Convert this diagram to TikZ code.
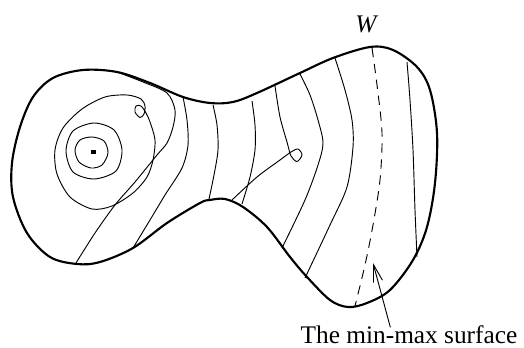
\documentclass[tikz,border=0pt]{standalone}
\usepackage{fontspec}
\setmainfont{Liberation Serif}
\usetikzlibrary{arrows.meta}
\tikzset{
  outline/.style={line width=1.6pt, line join=round},
  contour/.style={line width=0.7pt},
  minmax/.style={line width=0.7pt, dash pattern=on 7pt off 5pt},
  arr/.style={line width=0.7pt, -{Straight Barb[length=13pt,width=7pt]}},
  lab/.style={inner sep=0pt, font=\fontsize{19}{23}\selectfont}
}
\begin{document}
\begin{tikzpicture}[x=0.75pt,y=-0.75pt]
\useasboundingbox (0,0) rectangle (524,348);
% outline
\draw[outline] plot[smooth cycle, tension=0.55] coordinates {
 (12,163) (20,127) (33,97) (53,78) (83,70) (117,72) (150,83) (183,97) (210,103)
 (233,102) (257,93) (300,73) (333,58) (370,47) (393,50) (417,67) (430,90)
 (437,133) (435,183) (427,227) (413,260) (390,290) (367,303) (348,307)
 (330,300) (307,277) (290,257) (267,227) (243,207) (225,199) (210,200)
 (200,203) (167,223) (133,248) (100,262) (77,264) (50,257) (27,233) (13,197)};
% critical point and closed levels
\fill (91,150) rectangle (95.5,154.5);
\draw[contour] plot[smooth cycle] coordinates {(92,137) (104,141) (108,153) (102,165) (91,168) (79,162) (75,150) (80,140)};
\draw[contour] plot[smooth cycle] coordinates {(94,123) (114,130) (122,150) (116,171) (94,179) (73,172) (66,151) (73,131)};
% spiral with small loop
\draw[contour] plot[smooth cycle, tension=0.5] coordinates {
 (150,122) (155,140) (153,160) (147,177) (133,193) (112,206) (92,209) (70,197)
 (57,174) (55,150) (63,128) (82,109) (105,97) (127,95) (141,99) (145,106)
 (144,114) (140,117.5) (135,112) (136,106) (141,106) (146,113)};
% curve from top boundary to bottom
\draw[contour] plot[smooth] coordinates {(117,72) (143,82) (167,93) (175,110) (173,127) (167,143) (157,155) (135,182) (115,205) (95,233) (76,263)};
% neck levels
\draw[contour] plot[smooth] coordinates {(183,97) (187,120) (188,145) (182,168) (165,195) (150,220) (133,248)};
\draw[contour] plot[smooth] coordinates {(213,105) (217,125) (218,150) (214,175) (209,199)};
\draw[contour] plot[smooth] coordinates {(252,101) (255,125) (255,150) (250,177) (242,204)};
% curve with teardrop loop
\draw[contour] plot[smooth, tension=0.5] coordinates {(275,86) (280,117) (287,142) (291,156) (297,161.5) (302,155) (298,149) (291,152) (280,160) (257,177) (232,200)};
% right lobe levels
\draw[contour] plot[smooth] coordinates {(300,74) (310,95) (318,120) (323,143) (318,165) (305,200) (282,248)};
\draw[contour] plot[smooth] coordinates {(335,58) (345,90) (352,120) (353,147) (347,187) (330,225) (305,278)};
\draw[minmax] plot[smooth] coordinates {(372,48) (377,85) (382,133) (380,180) (373,225) (365,265) (355,306)};
\draw[contour] plot[smooth] coordinates {(407,62) (410,100) (413,150) (415,210) (417,257)};
% labels
\node[lab, anchor=base] (w) at (366,33) {\itshape W};
\node[lab, anchor=base] (lbl) at (409,344) {The min-max surface};
\coordinate (tip) at (373,263);
\draw[arr] ([xshift=-14pt,yshift=-1pt]lbl.north) -- (tip);
\end{tikzpicture}
\end{document}
